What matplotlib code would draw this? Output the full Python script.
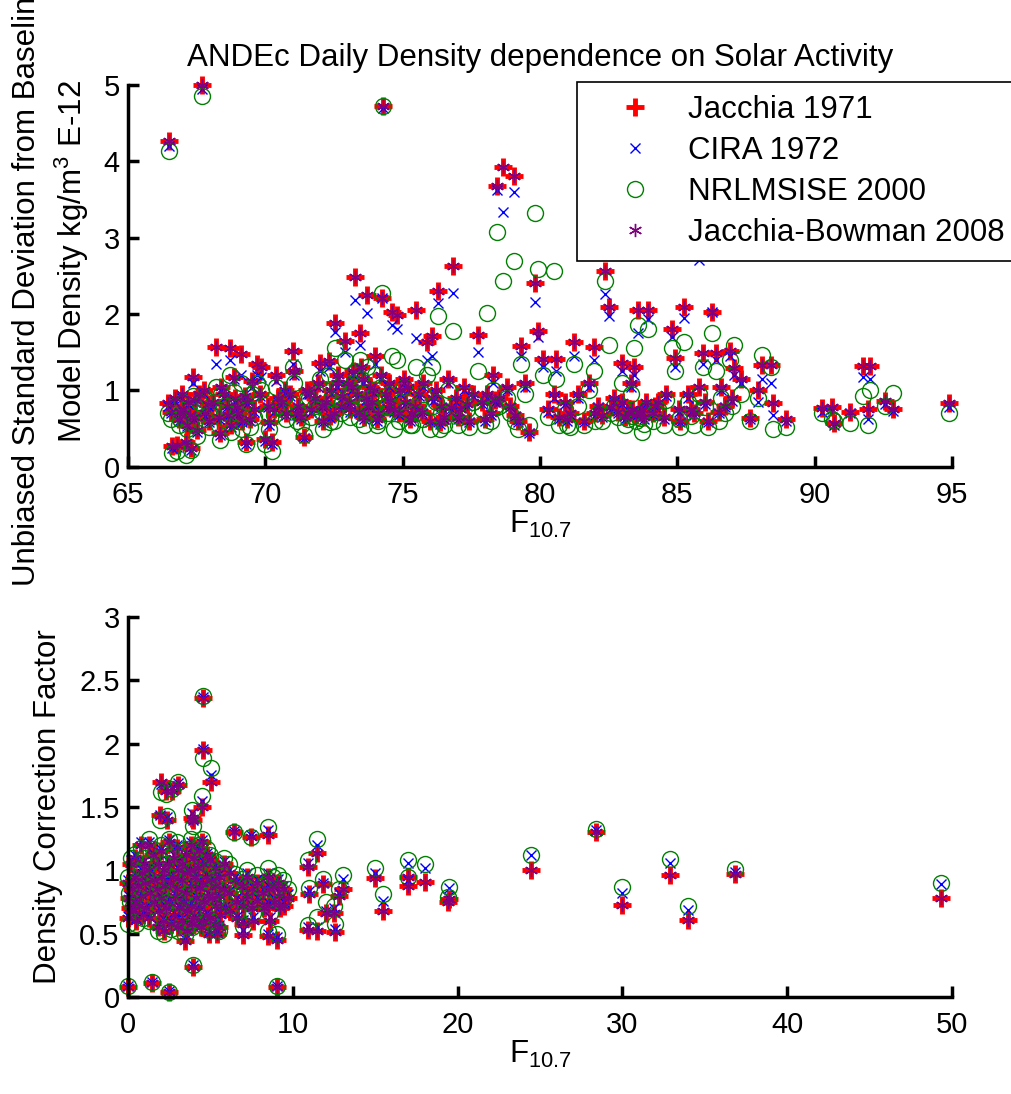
import numpy as np
import matplotlib
matplotlib.use("Agg")
import matplotlib.pyplot as plt
from matplotlib.ticker import FormatStrFormatter

plt.rcParams['font.family'] = ['Liberation Sans', 'DejaVu Sans']
plt.rcParams['mathtext.fontset'] = 'custom'
plt.rcParams['mathtext.rm'] = 'Liberation Sans'
plt.rcParams['mathtext.it'] = 'Liberation Sans:italic'

model_names = ['Jacchia 1971', 'CIRA 1972', 'NRLMSISE 2000', 'Jacchia-Bowman 2008']

# ---- top panel: std deviation vs F10.7 ----
top_f107 = [
    66.45, 66.5, 66.55, 66.6, 66.7, 66.8, 66.85, 66.95, 67.0, 67.1, 67.15, 67.2, 67.3, 67.35, 67.4, 67.5, 67.6, 67.7, 67.75, 67.8, 67.9, 67.95,
    68.1, 68.2, 68.3, 68.35, 68.5, 68.6, 68.7, 68.75, 68.85, 68.9, 69.0, 69.1, 69.15, 69.3, 69.35, 69.5, 69.6, 69.7, 69.8, 69.85, 70.0, 70.1, 70.15, 70.25, 70.4, 70.45,
    70.6, 70.75, 70.9, 71.0, 71.05, 71.2, 71.3, 71.4, 71.5, 71.65, 71.8, 71.9, 72.0, 72.1, 72.2, 72.3, 72.4, 72.5, 72.55, 72.65, 72.75, 72.9,
    73.0, 73.1, 73.2, 73.28, 73.35, 73.45, 73.5, 73.6, 73.71, 73.8, 73.9, 74.0, 74.1, 74.2, 74.26, 74.3, 74.4, 74.5, 74.62, 74.7, 74.79, 74.9,
    75.1, 75.2, 75.35, 75.5, 75.6, 75.75, 75.9, 76.0, 76.08, 76.2, 76.27, 76.4, 76.5, 76.65, 76.84, 76.95, 77.1, 77.25, 77.4, 77.55, 77.73, 77.9,
    78.06, 78.2, 78.3, 78.43, 78.5, 78.67, 78.8, 78.9, 79.06, 79.2, 79.31, 79.45, 79.6, 79.83, 79.92, 80.1, 80.3, 80.5, 80.6, 80.7,
    80.9, 81.1, 81.25, 81.4, 81.6, 81.8, 81.95, 82.1, 82.25, 82.38, 82.5, 82.7, 82.85, 82.99, 83.1, 83.3, 83.44, 83.56, 83.7, 83.85, 83.95,
    84.1, 84.3, 84.5, 84.82, 84.9, 85.05, 85.23, 85.4, 85.6, 85.8, 85.93, 86.1, 86.26, 86.4, 86.6, 86.75, 86.91, 87.07, 87.3, 87.64, 87.94, 88.07, 88.4, 88.5, 88.95,
    90.26, 90.64, 90.71, 91.29, 91.77, 91.94, 92.0, 92.57, 92.85, 94.88,
    66.9, 67.25, 67.45, 68.4, 68.65, 68.95, 69.25, 69.45, 70.3, 70.7, 71.15, 71.6, 72.05, 72.35, 72.6, 72.8, 73.05, 73.15, 73.4, 73.55,
    73.65, 73.75, 73.95, 74.05, 74.45, 74.55, 74.85, 75.05, 75.25, 75.45, 75.7, 76.1, 76.35, 76.75, 77.0, 77.35, 78.0, 78.35, 79.1, 81.0,
    82.0, 82.6, 83.0, 83.2, 83.35, 83.5, 83.65, 83.8, 84.2, 84.6, 85.1, 85.5, 86.0, 86.5, 87.0,
]
top_j71 = [
    0.83, 4.27, 0.72, 0.27, 0.90, 0.28, 0.62, 0.95, 0.75, 0.33, 0.55, 0.85, 0.24, 1.18, 0.65, 0.48, 0.95, 5.00, 1.00, 0.70, 0.82, 0.60,
    0.85, 1.57, 0.65, 0.44, 0.95, 0.80, 1.55, 0.55, 1.17, 0.90, 0.70, 1.48, 0.60, 0.33, 0.85, 1.12, 0.75, 1.35, 0.95, 1.31, 0.36, 0.80, 0.59, 0.33, 1.20, 0.90,
    0.85, 0.70, 0.95, 1.51, 1.25, 0.80, 0.65, 0.39, 1.00, 0.75, 0.90, 1.10, 1.36, 0.60, 0.85, 1.38, 1.00, 0.70, 1.88, 1.20, 0.80, 1.65,
    1.10, 0.75, 1.25, 2.48, 0.95, 1.75, 1.30, 0.65, 2.25, 1.05, 0.85, 1.45, 0.70, 1.20, 2.21, 4.73, 0.95, 1.10, 2.03, 0.75, 1.99, 1.00,
    0.85, 1.05, 0.70, 2.05, 0.95, 1.10, 1.64, 0.60, 1.71, 1.00, 2.30, 0.80, 0.65, 1.15, 2.63, 0.90, 0.75, 1.05, 0.60, 0.95, 1.73, 0.85,
    0.95, 0.70, 1.20, 3.68, 0.90, 3.92, 1.05, 0.80, 3.81, 0.60, 1.58, 1.10, 0.46, 2.40, 1.78, 1.41, 0.75, 0.95, 1.41, 0.65,
    0.85, 0.70, 1.64, 0.95, 0.60, 1.10, 1.57, 0.80, 0.68, 2.56, 2.09, 0.90, 0.72, 1.36, 0.65, 1.10, 1.31, 2.05, 0.75, 0.85, 2.05,
    0.70, 0.85, 0.65, 1.80, 1.42, 0.75, 2.09, 0.95, 0.70, 1.05, 1.49, 0.60, 2.03, 1.49, 1.05, 0.80, 1.52, 1.29, 1.15, 0.64, 1.01, 1.33, 1.33, 0.83, 0.63,
    0.77, 0.78, 0.57, 0.72, 1.32, 0.75, 1.32, 0.86, 0.75, 0.83,
    0.72, 0.68, 0.88, 1.05, 0.68, 0.78, 0.92, 0.62, 0.75, 1.00, 0.70, 0.98, 0.80, 0.66, 1.10, 0.92, 0.85, 1.05, 0.72, 1.15,
    0.90, 0.80, 1.00, 0.62, 0.78, 0.88, 0.70, 1.15, 0.62, 0.80, 0.72, 0.90, 0.58, 0.78, 0.65, 0.82, 0.62, 0.88, 0.68, 0.62,
    0.70, 0.78, 0.85, 0.70, 0.75, 0.68, 0.72, 0.65, 0.80, 0.95, 0.60, 0.75, 0.85, 0.72, 0.90,
]
top_cira72 = [
    0.80, 4.20, 0.70, 0.25, 0.85, 0.26, 0.60, 0.90, 0.72, 0.30, 0.53, 0.82, 0.22, 1.10, 0.62, 0.45, 0.90, 4.95, 0.95, 0.66, 0.80, 0.58,
    0.80, 1.35, 0.62, 0.42, 0.90, 0.78, 1.40, 0.52, 1.15, 0.85, 0.68, 1.20, 0.58, 0.30, 0.82, 1.05, 0.72, 1.20, 0.92, 1.18, 0.34, 0.78, 0.55, 0.30, 1.12, 0.85,
    0.82, 0.68, 0.92, 1.35, 1.20, 0.78, 0.62, 0.37, 0.95, 0.72, 0.88, 1.05, 1.25, 0.58, 0.82, 1.30, 0.95, 0.68, 1.77, 1.15, 0.78, 1.50,
    1.05, 0.72, 1.20, 2.19, 0.92, 1.60, 1.25, 0.62, 2.01, 1.00, 0.82, 1.35, 0.68, 1.15, 2.21, 4.70, 0.90, 1.05, 1.85, 0.72, 1.80, 0.95,
    0.82, 1.00, 0.68, 1.68, 0.92, 1.05, 1.40, 0.58, 1.45, 0.95, 2.14, 0.78, 0.62, 1.10, 2.27, 0.85, 0.72, 1.00, 0.58, 0.92, 1.50, 0.82,
    0.90, 0.68, 1.10, 3.63, 0.85, 3.34, 1.00, 0.78, 3.60, 0.58, 1.45, 1.05, 0.44, 2.16, 1.70, 1.30, 0.72, 0.90, 1.25, 0.62,
    0.82, 0.68, 1.45, 0.90, 0.58, 1.05, 1.40, 0.78, 0.65, 2.26, 1.97, 0.85, 0.70, 1.25, 0.62, 1.05, 1.20, 1.75, 0.72, 0.82, 1.93,
    0.68, 0.82, 0.62, 1.70, 1.30, 0.72, 1.95, 0.90, 0.68, 2.71, 1.35, 0.58, 2.03, 1.40, 1.00, 0.78, 1.45, 1.20, 1.10, 0.62, 0.85, 1.15, 1.10, 0.68, 0.60,
    0.72, 0.75, 0.55, 0.70, 1.17, 0.62, 1.15, 0.82, 0.73, 0.78,
    0.70, 0.66, 0.85, 1.00, 0.66, 0.76, 0.90, 0.60, 0.72, 0.96, 0.68, 0.95, 0.78, 0.64, 1.05, 0.90, 0.82, 1.00, 0.70, 1.10,
    0.88, 0.78, 0.96, 0.60, 0.76, 0.85, 0.68, 1.10, 0.60, 0.78, 0.70, 0.86, 0.56, 0.76, 0.63, 0.80, 0.60, 0.85, 0.66, 0.60,
    0.68, 0.76, 0.82, 0.68, 0.73, 0.66, 0.70, 0.63, 0.78, 0.92, 0.58, 0.72, 0.82, 0.70, 0.86,
]
top_nrl00 = [
    0.70, 4.13, 0.62, 0.18, 0.80, 0.20, 0.55, 0.85, 0.65, 0.15, 0.50, 0.75, 0.22, 0.92, 0.55, 0.40, 0.85, 4.85, 0.88, 0.62, 0.70, 0.52,
    0.75, 1.05, 0.55, 0.35, 0.80, 0.70, 1.20, 0.45, 0.98, 0.80, 0.60, 1.10, 0.50, 0.30, 0.75, 0.95, 0.65, 1.10, 0.85, 1.00, 0.30, 0.70, 0.50, 0.20, 1.05, 0.80,
    0.75, 0.62, 0.85, 1.30, 1.10, 0.70, 0.55, 0.42, 0.90, 0.65, 0.80, 0.95, 1.15, 0.50, 0.75, 1.20, 0.90, 0.60, 1.55, 1.05, 0.70, 1.40,
    0.95, 0.65, 1.10, 1.25, 0.85, 1.40, 1.15, 0.55, 1.30, 0.90, 0.75, 1.20, 0.60, 1.05, 2.27, 4.72, 0.80, 0.95, 1.45, 0.50, 1.40, 0.85,
    0.75, 0.92, 0.55, 1.30, 0.85, 0.95, 1.20, 0.50, 1.30, 0.85, 1.97, 0.70, 0.55, 1.00, 1.78, 0.80, 0.65, 0.95, 0.52, 0.85, 1.25, 0.75,
    2.01, 0.60, 1.00, 3.08, 0.80, 2.43, 0.90, 0.70, 2.69, 0.50, 1.35, 0.95, 0.55, 3.32, 2.59, 1.20, 0.65, 2.56, 1.15, 0.55,
    0.75, 0.52, 1.35, 0.80, 0.55, 1.00, 1.25, 0.70, 0.60, 2.43, 1.60, 0.80, 0.65, 1.10, 0.55, 0.95, 1.55, 1.85, 0.46, 0.75, 1.80,
    0.60, 0.75, 0.55, 1.55, 1.25, 0.62, 1.63, 0.85, 0.55, 0.95, 1.30, 0.52, 1.75, 1.25, 0.90, 0.70, 1.40, 1.59, 0.95, 0.60, 0.90, 1.46, 1.30, 0.49, 0.52,
    0.70, 0.63, 0.60, 0.57, 0.92, 0.54, 1.01, 0.80, 0.96, 0.70,
    0.62, 0.58, 0.80, 0.95, 0.58, 0.70, 0.85, 0.52, 0.68, 0.92, 0.60, 0.90, 0.72, 0.58, 1.00, 0.85, 0.78, 0.95, 0.62, 1.05,
    0.82, 0.70, 0.92, 0.55, 0.70, 0.80, 0.60, 1.05, 0.55, 0.70, 0.62, 0.80, 0.50, 0.70, 0.55, 0.75, 0.55, 0.80, 0.60, 0.55,
    0.60, 0.70, 0.78, 0.62, 0.66, 0.60, 0.64, 0.56, 0.72, 0.88, 0.52, 0.66, 0.78, 0.60, 0.80,
]
# JB2008 asterisks sit right on the Jacchia 1971 crosses
top_jb08 = list(top_j71)

# ---- bottom panel: correction factor vs F10.7 ----
bot_f107 = [
    0.0, 1.46, 2.48, 3.92, 9.03, 4.53, 4.55, 5.03, 2.0, 2.3, 2.65, 3.05, 1.95, 2.35, 3.9, 3.95, 4.5,
    6.45, 7.47, 8.52, 11.46, 10.95, 13.04, 15.0, 15.45, 11.0, 10.9, 11.46, 12.53, 11.85, 12.5, 12.0, 12.8,
    8.52, 9.03, 6.96, 3.45, 16.97, 17.0, 18.05, 19.42, 19.45, 24.44, 28.37, 29.95, 32.89, 34.0, 36.83, 49.33,
    0.0, 0.05, 0.0, 0.1,
    0.2, 0.25, 0.3,
    0.4, 0.45, 0.4, 0.5,
    0.6, 0.65,
    0.8, 0.85, 0.8, 0.9,
    1.0, 1.05, 1.1,
    1.3, 1.25, 1.35, 1.3,
    1.5, 1.55, 1.6,
    1.8, 1.75, 1.85, 1.8,
    2.0, 2.05, 2.0, 2.1,
    2.2, 2.25, 2.3, 2.2,
    2.5, 2.45, 2.55, 2.5, 2.6,
    2.8, 2.75, 2.85, 2.8,
    3.0, 3.05, 3.0, 3.1, 3.05,
    3.3, 3.25, 3.35, 3.3,
    3.5, 3.55, 3.5, 3.6, 3.55,
    3.8, 3.75, 3.85, 3.8, 3.9,
    4.0, 4.05, 4.1, 4.0,
    4.3, 4.25, 4.35, 4.3, 4.4,
    4.5, 4.55, 4.5, 4.6, 4.55,
    4.8, 4.75, 4.85, 4.8, 4.9,
    5.0, 5.05, 5.1, 5.0,
    5.3, 5.25, 5.35, 5.3, 5.4,
    5.5, 5.55, 5.6, 5.5,
    5.8, 5.85, 5.9,
    6.1, 6.15, 6.2,
    6.5, 6.55, 6.6,
    6.9, 6.95, 7.0,
    7.2, 7.25,
    7.5, 7.55, 7.6,
    7.8, 7.85,
    8.2, 8.25,
    8.5, 8.55, 8.5, 8.6,
    8.8, 8.85,
    9.1, 9.15, 9.2,
    9.4, 9.45,
    9.7,
]
bot_j71 = [
    0.08, 0.11, 0.04, 0.24, 0.08, 2.36, 1.95, 1.70, 1.70, 1.63, 1.63, 1.67, 1.44, 1.40, 1.41, 1.40, 1.50,
    1.30, 1.26, 1.28, 1.14, 1.03, 0.85, 0.94, 0.68, 0.81, 0.53, 0.52, 0.51, 0.89, 0.66, 0.66, 0.80,
    0.48, 0.45, 0.49, 0.44, 0.88, 0.95, 0.91, 0.75, 0.77, 1.00, 1.30, 0.73, 0.96, 0.61, 0.97, 0.78,
    0.90, 0.78, 0.62, 0.70,
    1.05, 0.85, 0.68,
    1.10, 0.95, 0.75, 0.60,
    0.88, 0.72,
    1.20, 0.98, 0.80, 0.65,
    1.05, 0.90, 0.70,
    1.20, 1.00, 0.82, 0.62,
    1.12, 0.92, 0.75,
    1.05, 0.85, 0.68, 0.55,
    1.15, 0.95, 0.78, 0.60,
    1.00, 0.88, 0.70, 0.52,
    1.22, 1.05, 0.90, 0.75, 0.58,
    1.10, 0.95, 0.80, 0.65,
    1.18, 1.00, 0.85, 0.70, 0.55,
    1.05, 0.92, 0.75, 0.60,
    1.12, 0.98, 0.82, 0.68, 0.52,
    1.20, 1.00, 0.88, 0.72, 0.58,
    1.10, 0.95, 0.78, 0.62,
    1.15, 1.02, 0.86, 0.70, 0.55,
    1.22, 1.05, 0.90, 0.75, 0.60,
    1.12, 0.95, 0.80, 0.65, 0.50,
    1.08, 0.92, 0.78, 0.62,
    1.02, 0.88, 0.72, 0.58, 0.50,
    0.95, 0.80, 0.65, 0.55,
    1.05, 0.85, 0.70,
    0.98, 0.82, 0.68,
    0.92, 0.75, 0.62,
    0.88, 0.72, 0.58,
    0.95, 0.80,
    0.85, 0.70, 0.60,
    0.90, 0.76,
    0.82, 0.70,
    0.95, 0.85, 0.72, 0.60,
    0.88, 0.75,
    0.90, 0.80, 0.70,
    0.85, 0.72,
    0.78,
]
bot_cira72 = [
    0.09, 0.12, 0.05, 0.25, 0.09, 2.37, 1.96, 1.75, 1.68, 1.64, 1.66, 1.69, 1.44, 1.42, 1.45, 1.40, 1.55,
    1.31, 1.28, 1.32, 1.20, 1.06, 0.93, 0.98, 0.76, 0.84, 0.55, 0.55, 0.54, 0.90, 0.70, 0.68, 0.82,
    0.50, 0.47, 0.53, 0.46, 0.92, 1.06, 1.02, 0.79, 0.86, 1.12, 1.32, 0.82, 1.06, 0.69, 0.99, 0.89,
    0.92, 0.80, 0.64, 0.72,
    1.08, 0.87, 0.70,
    1.12, 0.97, 0.77, 0.62,
    0.90, 0.74,
    1.22, 1.00, 0.82, 0.67,
    1.07, 0.92, 0.72,
    1.22, 1.03, 0.84, 0.64,
    1.14, 0.94, 0.77,
    1.07, 0.87, 0.70, 0.57,
    1.17, 0.97, 0.80, 0.62,
    1.02, 0.90, 0.72, 0.54,
    1.24, 1.07, 0.92, 0.77, 0.60,
    1.12, 0.97, 0.82, 0.67,
    1.20, 1.02, 0.87, 0.72, 0.57,
    1.07, 0.94, 0.77, 0.62,
    1.14, 1.00, 0.84, 0.70, 0.54,
    1.22, 1.02, 0.90, 0.74, 0.60,
    1.12, 0.97, 0.80, 0.64,
    1.17, 1.04, 0.88, 0.72, 0.57,
    1.24, 1.07, 0.92, 0.77, 0.62,
    1.14, 0.97, 0.82, 0.67, 0.52,
    1.10, 0.94, 0.80, 0.64,
    1.04, 0.90, 0.74, 0.60, 0.52,
    0.97, 0.82, 0.67, 0.57,
    1.07, 0.87, 0.72,
    1.00, 0.84, 0.70,
    0.95, 0.78, 0.64,
    0.91, 0.75, 0.61,
    0.98, 0.83,
    0.88, 0.73, 0.63,
    0.93, 0.79,
    0.85, 0.73,
    0.98, 0.88, 0.75, 0.63,
    0.91, 0.78,
    0.93, 0.83, 0.73,
    0.88, 0.75,
    0.81,
]
bot_nrl00 = [
    0.09, 0.12, 0.04, 0.25, 0.09, 2.38, 1.89, 1.81, 1.62, 1.60, 1.64, 1.70, 1.40, 1.43, 1.48, 1.35, 1.59,
    1.30, 1.26, 1.34, 1.25, 1.08, 0.96, 1.02, 0.81, 0.86, 0.57, 0.63, 0.58, 0.93, 0.72, 0.75, 0.85,
    0.52, 0.50, 0.56, 0.49, 0.95, 1.08, 1.05, 0.79, 0.87, 1.12, 1.33, 0.87, 1.09, 0.72, 1.01, 0.90,
    0.95, 0.82, 0.58, 0.75,
    1.10, 0.90, 0.72,
    1.13, 1.00, 0.80, 0.58,
    0.93, 0.77,
    1.18, 1.02, 0.85, 0.62,
    1.10, 0.95, 0.75,
    1.25, 1.05, 0.88, 0.60,
    1.17, 0.97, 0.80,
    1.10, 0.90, 0.73, 0.52,
    1.20, 1.00, 0.83, 0.55,
    1.05, 0.92, 0.75, 0.50,
    1.25, 1.10, 0.95, 0.80, 0.54,
    1.15, 1.00, 0.85, 0.62,
    1.22, 1.05, 0.90, 0.75, 0.52,
    1.10, 0.97, 0.80, 0.57,
    1.17, 1.03, 0.87, 0.73, 0.55,
    1.25, 1.05, 0.93, 0.77, 0.55,
    1.15, 1.00, 0.83, 0.60,
    1.20, 1.07, 0.90, 0.75, 0.58,
    1.25, 1.10, 0.95, 0.80, 0.57,
    1.17, 1.00, 0.85, 0.70, 0.53,
    1.12, 0.97, 0.83, 0.60,
    1.07, 0.93, 0.77, 0.55, 0.53,
    1.00, 0.85, 0.70, 0.52,
    1.10, 0.90, 0.75,
    1.05, 0.87, 0.72,
    0.97, 0.80, 0.67,
    0.93, 0.78, 0.64,
    1.00, 0.86,
    0.90, 0.76, 0.66,
    0.96, 0.82,
    0.88, 0.76,
    1.02, 0.92, 0.78, 0.66,
    0.95, 0.82,
    0.96, 0.86, 0.76,
    0.92, 0.78,
    0.85,
]
bot_jb08 = list(bot_j71)

marker_styles = [
    dict(marker='+', color='red', markersize=13, markeredgewidth=3.5),
    dict(marker='x', color='blue', markersize=6.5, markeredgewidth=1.0),
    dict(marker='o', markerfacecolor='none', markeredgecolor=(0, 0.5, 0), color=(0, 0.5, 0),
         markersize=11.5, markeredgewidth=1.0),
    dict(marker=(6, 2, 0), color=(0.5, 0, 0.5), markersize=9.5, markeredgewidth=1.0),
]

FS = 22.5     # label / title / legend size
TICK_FS = 21


def draw_models(ax, x, series):
    lines = []
    for ys, name, st in zip(series, model_names, marker_styles):
        ln, = ax.plot(x, ys, linestyle='none', clip_on=False, label=name, **st)
        lines.append(ln)
    return lines


def matlab_axes(ax):
    for side in ['top', 'right']:
        ax.spines[side].set_visible(False)
    for side in ['left', 'bottom']:
        ax.spines[side].set_linewidth(2.5)
    ax.tick_params(direction='in', length=8, width=2.5, labelsize=TICK_FS)
    ax.tick_params(axis='x', pad=10)
    ax.tick_params(axis='y', pad=6)


fig = plt.figure(figsize=(10.12, 10.94), dpi=100)
ax1 = fig.add_axes([0.1265, 0.5734, 0.8142, 0.3489])
ax2 = fig.add_axes([0.1265, 0.0887, 0.8142, 0.3473])

lines = draw_models(ax1, top_f107, [top_j71, top_cira72, top_nrl00, top_jb08])
ax1.set_xlim(65, 95)
ax1.set_ylim(0, 5)
ax1.set_xticks(np.arange(65, 96, 5))
ax1.set_yticks(np.arange(0, 6, 1))
matlab_axes(ax1)
ax1.set_xlabel(r'F$_{\mathrm{10.7}}$', fontsize=FS, labelpad=0)
ax1.set_title('ANDEc Daily Density dependence on Solar Activity', fontsize=FS, pad=14)

# two-line y label; the first line runs off the top edge as in the original
fig.text(27 / 1012, 1 - 586 / 1094, 'Unbiased Standard Deviation from Baseline',
         rotation=90, ha='center', va='bottom', fontsize=FS)
fig.text(72 / 1012, 1 - 262 / 1094, r'Model Density kg/m$^3$ E-12',
         rotation=90, ha='center', va='center', fontsize=FS)

leg = ax1.legend(handles=lines, loc='upper left',
                 bbox_to_anchor=(577 / 1012, 1 - 82 / 1094), bbox_transform=fig.transFigure,
                 fontsize=FS, frameon=True, fancybox=False, framealpha=1, edgecolor='black',
                 borderpad=0.4, labelspacing=0.36, handlelength=2.9, handletextpad=0.25,
                 borderaxespad=0)
leg.get_frame().set_linewidth(1.2)

draw_models(ax2, bot_f107, [bot_j71, bot_cira72, bot_nrl00, bot_jb08])
ax2.set_xlim(0, 50)
ax2.set_ylim(0, 3)
ax2.set_xticks(np.arange(0, 51, 10))
ax2.set_yticks(np.arange(0, 3.01, 0.5))
ax2.yaxis.set_major_formatter(FormatStrFormatter('%g'))
matlab_axes(ax2)
ax2.set_xlabel(r'F$_{\mathrm{10.7}}$', fontsize=FS, labelpad=0)
ax2.set_ylabel('Density Correction Factor', fontsize=FS, labelpad=12)

fig.savefig('out.png', dpi=100)
